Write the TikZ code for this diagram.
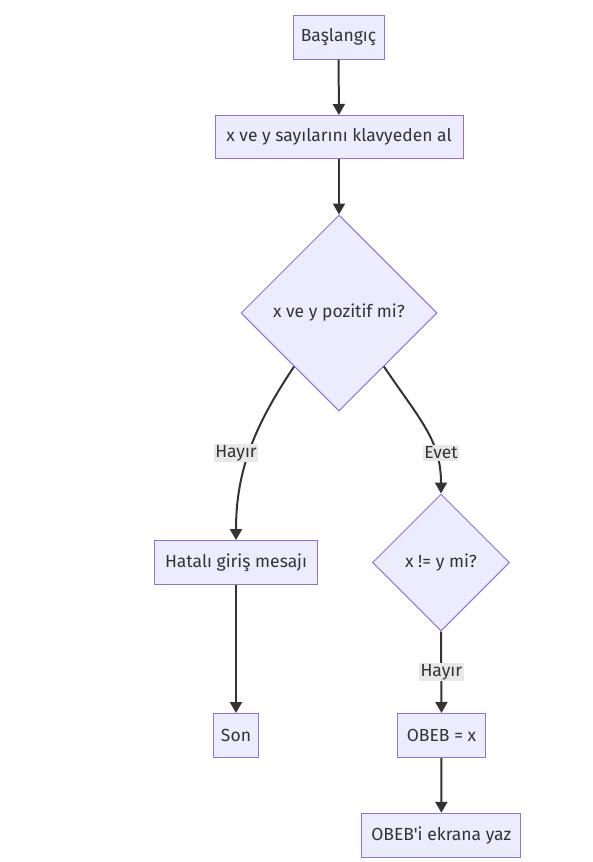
\documentclass[tikz,border=0pt]{standalone}
\usepackage{fontspec}
\setmainfont{Fira Sans}[Ligatures=TeXOff]
\usetikzlibrary{shapes.geometric,arrows.meta}
\begin{document}
\begin{tikzpicture}[x=1pt,y=-1pt]
\definecolor{boxfill}{HTML}{ECECFF}
\definecolor{boxline}{HTML}{9370DB}
\definecolor{ink}{HTML}{333333}
\definecolor{lblfill}{HTML}{E8E8E8}

\tikzset{box/.style={rectangle,draw=boxline,fill=boxfill,line width=1pt,
    inner sep=0pt,minimum height=44pt,text=ink},
  dia/.style={diamond,draw=boxline,fill=boxfill,line width=1pt,
    inner sep=0pt,aspect=1,text=ink},
  arr/.style={draw=ink,line width=2pt,-{Triangle[length=11pt,width=12pt]}},
  lbl/.style={fill=lblfill,text=ink,inner sep=1.5pt},
  font=\fontsize{17.5}{21}\selectfont}

\useasboundingbox (0,0) rectangle (593,862);

\node[box,minimum width=91pt] (start) at (338.5,37) {Başlangıç};
\node[box,minimum width=248pt,minimum height=43pt] (read) at (339,137) {x ve y sayılarını klavyeden al};
\node[dia,minimum size=196pt] (pos) at (339,313) {x ve y pozitif mi?};
\node[box,minimum width=163pt] (err) at (236,562.5) {Hatalı giriş mesajı};
\node[dia,minimum size=137pt] (neq) at (441,562.5) {x != y mi?};
\node[box,minimum width=45pt] (son) at (236,735.5) {Son};
\node[box,minimum width=88pt] (obeb) at (441.5,735.5) {OBEB = x};
\node[box,minimum width=159pt] (print) at (441.3,835.3) {OBEB'i ekrana yaz};

\foreach \from/\to in {start/read,read/pos,err/son,obeb/print} {
    \draw[arr] (\from) -- (\to);
}

\draw[arr] (pos.230) .. controls (255,425) and (236,470) .. (err.north);
\draw[arr] (pos.310) .. controls (420,420) and (441,440) .. (neq.north);
\draw[arr] (neq.south) -- (obeb.north);

\node[lbl] (l1) at (236,453) {Hayır};
\node[lbl] (l2) at (441,453) {Evet};
\node[lbl] (l3) at (441.3,672) {Hayır};

\end{tikzpicture}
\end{document}
